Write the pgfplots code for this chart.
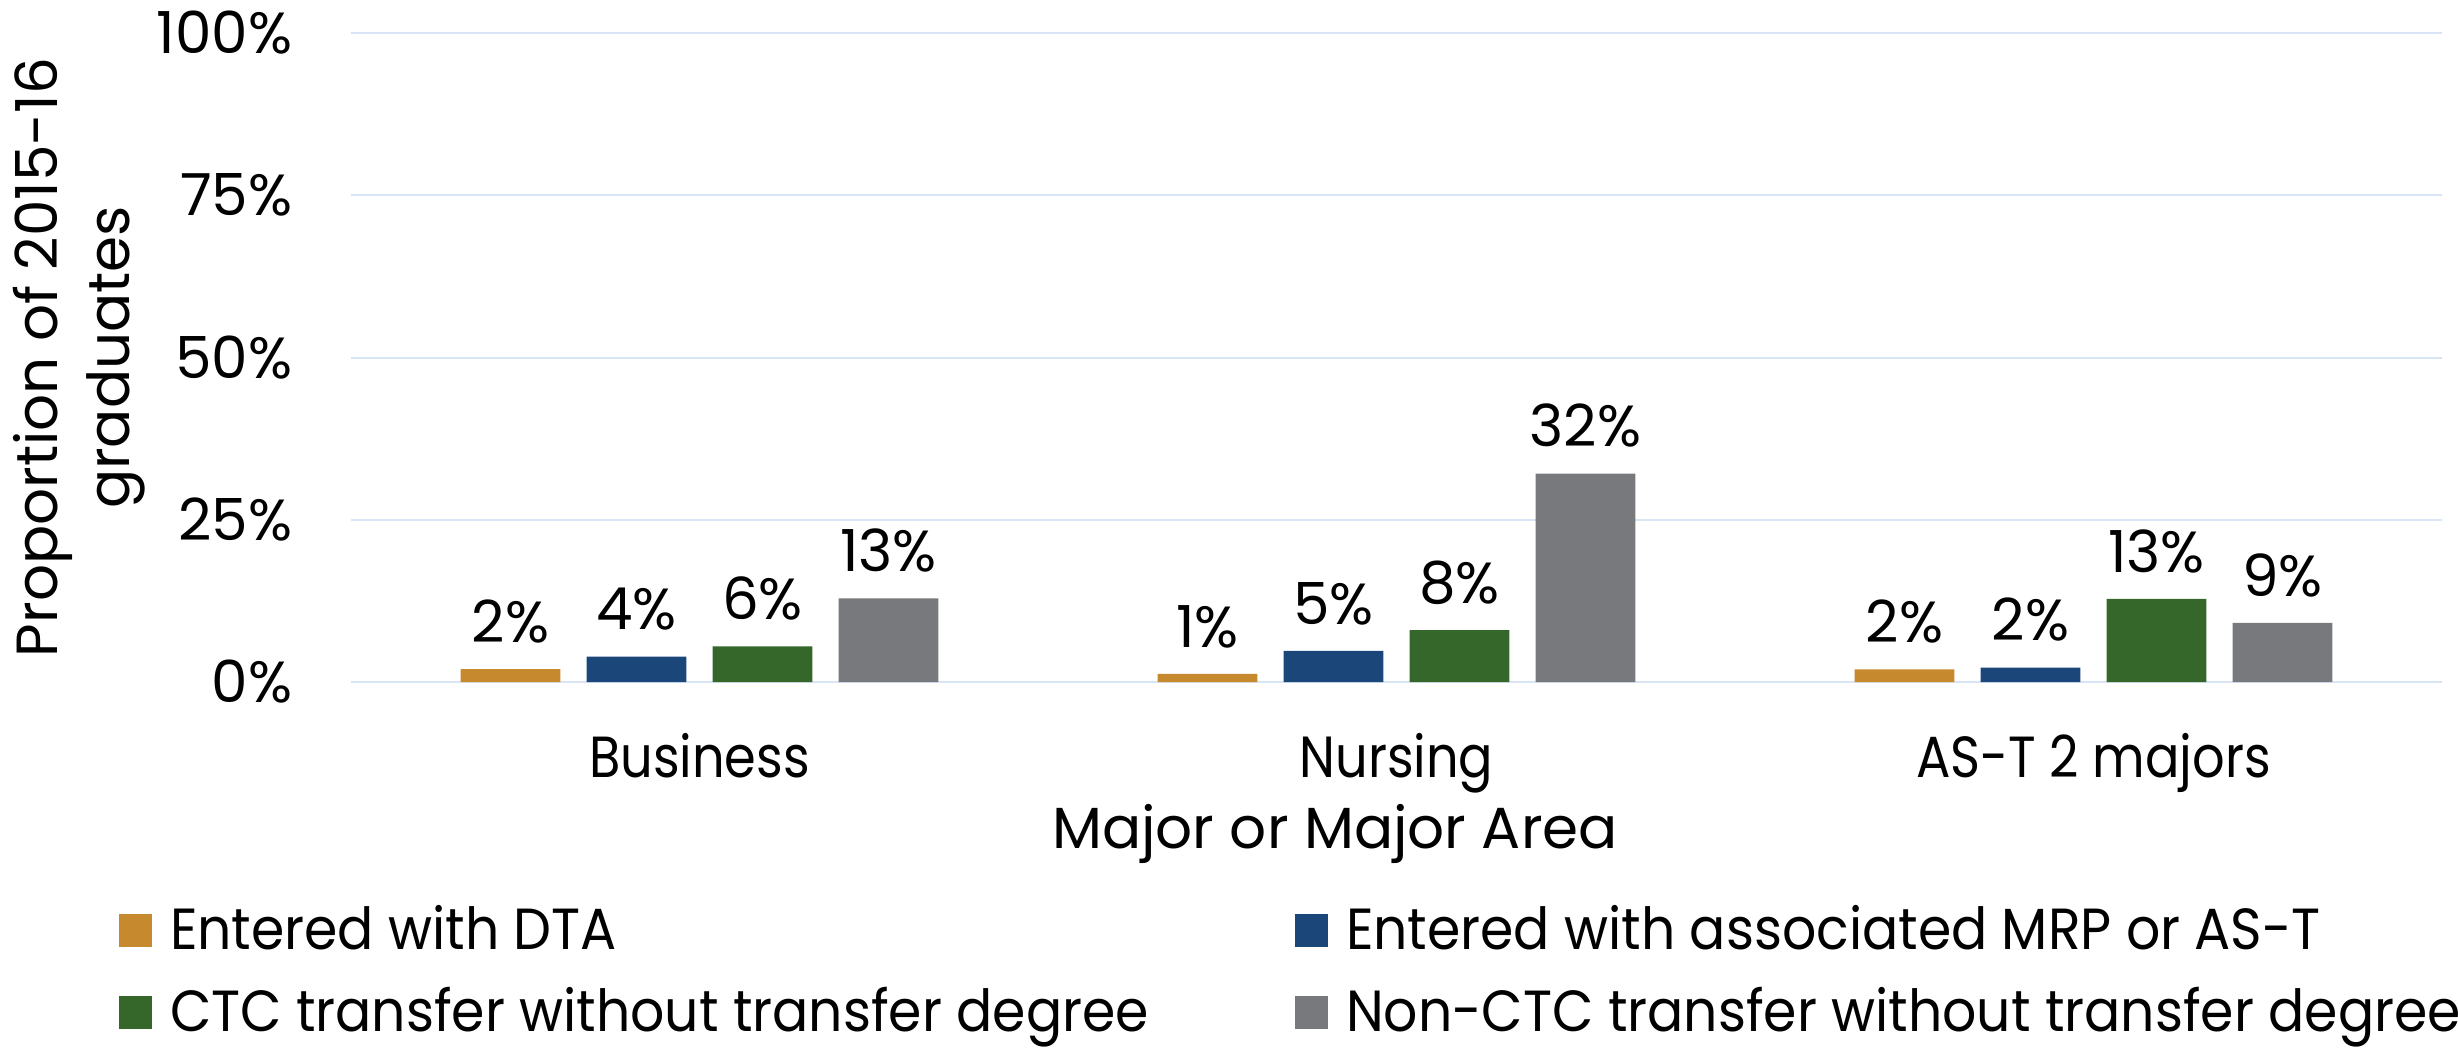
\documentclass[border=0pt]{standalone}
\usepackage{fontspec}
\setmainfont{Poppins}
\newfontfamily\tfa[FakeStretch=0.88]{Poppins}
\newfontfamily\tfb[FakeStretch=0.925]{Poppins}
\usepackage{pgfplots}
\pgfplotsset{compat=1.18}
\definecolor{cOrange}{HTML}{C6892D}
\definecolor{cBlue}{HTML}{1B467A}
\definecolor{cGreen}{HTML}{36672A}
\definecolor{cGray}{HTML}{78797D}
\definecolor{cGrid}{HTML}{D9E4F4}
\newcommand{\fs}{\fontsize{14.5}{17}\selectfont}
\newcommand{\fta}{\tfa\fontsize{14.5}{17}\selectfont}
\newcommand{\ftb}{\tfb\fontsize{14.5}{17}\selectfont}
\begin{document}
\begin{tikzpicture}
\useasboundingbox (0,0) rectangle (614.5pt,263pt);
\begin{axis}[
  at={(87.75pt,92.5pt)}, anchor=south west,
  scale only axis, width=522.75pt, height=162.25pt,
  xmin=-0.5, xmax=2.5, ymin=0, ymax=100,
  ytick={0,25,50,75,100}, yticklabels={0\%,25\%,50\%,75\%,100\%},
  xtick={0,1,2}, xticklabels={Business,Nursing,AS-T 2 majors},
  axis line style={draw=none}, major tick length=0pt,
  ymajorgrids, grid style={draw=cGrid, line width=0.5pt},
  yticklabel style={anchor=east, inner sep=0pt, xshift=-14.5pt, font=\fs},
  xticklabel style={anchor=base, inner sep=0pt, yshift=-23.75pt, font=\fta},
  ybar=6.6pt, bar width=24.9pt,
  /pgf/number format/assume math mode=true,
  nodes near coords={\pgfmathprintnumber[fixed,precision=0]{\pgfplotspointmeta}\%},
  every node near coord/.append style={font=\fs, anchor=base, inner sep=0pt, yshift=6.7pt, text=black},
  clip=false,
  xlabel={Major or Major Area},
  xlabel style={at={(axis description cs:0.4706,0)}, anchor=base, inner sep=0pt, yshift=-41.5pt, font=\fs},
  ylabel={Proportion of 2015-16},
  ylabel style={at={(axis description cs:-0.1406,0.5)}, anchor=base, inner sep=0pt, rotate=0, font=\fs},
  legend columns=2,
  legend cell align=left,
  legend style={at={(axis description cs:-0.11095,-0.345)}, anchor=north west, draw=none, fill=none,
    inner sep=0pt, outer sep=0pt, font=\ftb, row sep=6pt, column sep=0pt,
    nodes={inner sep=0pt, text height=11pt, text depth=3.5pt},
    /tikz/every odd column/.append style={column sep=4.5pt}},
  legend image code/.code={\fill[#1,draw=none] (0pt,-3.0pt) rectangle (8.25pt,5.25pt);},
]
\addplot[fill=cOrange, draw=none] coordinates {(0,2.0) (1,1.24) (2,1.96)};
\addplot[fill=cBlue, draw=none] coordinates {(0,3.9) (1,4.8) (2,2.2)};
\addplot[fill=cGreen, draw=none] coordinates {(0,5.5) (1,8.0) (2,12.8)};
\addplot[fill=cGray, draw=none] coordinates {(0,12.9) (1,32.1) (2,9.1)};
\legend{\makebox[281.25pt][l]{Entered with DTA},Entered with associated MRP or AS-T,\makebox[281.25pt][l]{CTC transfer without transfer degree},Non-CTC transfer without transfer degree}
\node[rotate=90, anchor=base, inner sep=0pt, font=\fs] at (axis description cs:-0.1057,0.5) {graduates};
\end{axis}
\end{tikzpicture}
\end{document}
